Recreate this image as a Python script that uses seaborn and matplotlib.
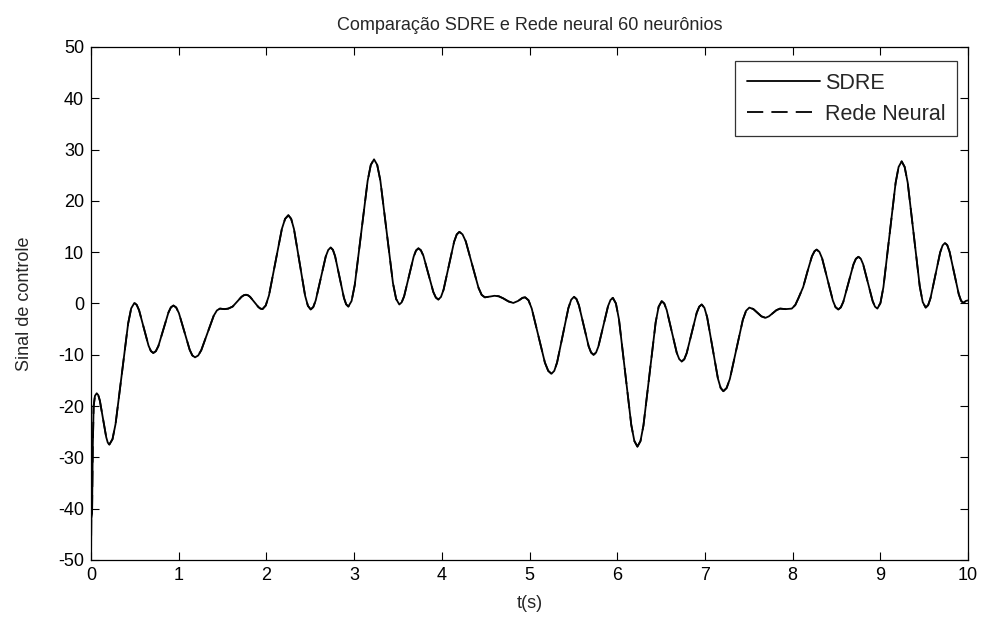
import numpy as np
import pandas as pd
import matplotlib
matplotlib.use("Agg")
import matplotlib.pyplot as plt
import seaborn as sns

# time (s) and control signal
t = [0.000, 0.003, 0.012, 0.020, 0.030, 0.045, 0.065,
     0.083, 0.101, 0.137, 0.173, 0.191, 0.209,
     0.245, 0.280, 0.352, 0.423, 0.458, 0.494,
     0.521, 0.548, 0.602, 0.656, 0.683, 0.710,
     0.739, 0.768, 0.825, 0.883, 0.911, 0.940,
     0.971, 1.002, 1.063, 1.125, 1.155, 1.186,
     1.222, 1.257, 1.328, 1.399, 1.435, 1.470, 1.520, 1.565,
     1.615, 1.666, 1.716, 1.742, 1.767,
     1.790, 1.814, 1.861, 1.908, 1.931, 1.955,
     1.992, 2.029, 2.103, 2.176, 2.213, 2.250,
     2.282, 2.314, 2.378, 2.441, 2.473, 2.505,
     2.534, 2.562, 2.619, 2.676, 2.705, 2.733,
     2.758, 2.783, 2.834, 2.884, 2.909, 2.934,
     2.971, 3.007, 3.081, 3.154, 3.190, 3.227,
     3.263, 3.299, 3.371, 3.443, 3.479, 3.515,
     3.542, 3.570, 3.624, 3.679, 3.706, 3.733,
     3.761, 3.790, 3.847, 3.903, 3.932, 3.960,
     3.990, 4.020, 4.080, 4.140, 4.170, 4.200,
     4.236, 4.273, 4.345, 4.418, 4.454, 4.490,
     4.550, 4.600, 4.650, 4.700, 4.760, 4.815, 4.870, 4.920, 4.950,
     4.988, 5.025, 5.100, 5.175, 5.213, 5.250,
     5.282, 5.314, 5.379, 5.443, 5.475, 5.507,
     5.535, 5.563, 5.619, 5.674, 5.702, 5.730,
     5.758, 5.785, 5.840, 5.895, 5.923, 5.950,
     5.985, 6.020, 6.090, 6.160, 6.195, 6.230,
     6.265, 6.299, 6.369, 6.438, 6.472, 6.507,
     6.536, 6.564, 6.621, 6.678, 6.707, 6.735,
     6.764, 6.792, 6.849, 6.906, 6.935, 6.963,
     6.994, 7.025, 7.087, 7.148, 7.179, 7.210,
     7.247, 7.284, 7.358, 7.432, 7.469, 7.506,
     7.552, 7.598, 7.644, 7.690,
     7.730, 7.773, 7.815, 7.856, 7.920, 7.990, 8.030, 8.065,
     8.120, 8.170, 8.220, 8.250, 8.274,
     8.305, 8.336, 8.397, 8.459, 8.489, 8.520,
     8.549, 8.578, 8.635, 8.693, 8.721, 8.750,
     8.777, 8.804, 8.858, 8.912, 8.939, 8.966,
     9.001, 9.035, 9.105, 9.174, 9.208, 9.243,
     9.277, 9.312, 9.380, 9.449, 9.483, 9.517,
     9.545, 9.572, 9.627, 9.682, 9.710, 9.737,
     9.763, 9.789, 9.841, 9.894, 9.920, 9.946,
     9.975, 10.000]

sdre = [-50.0, -42.0, -41.0, -28.0, -20.0, -18.0, -17.5,
        -17.88, -18.96, -22.5, -26.04, -27.12, -27.5,
        -26.45, -23.47, -13.7, -3.93, -0.95, 0.1,
        -0.27, -1.32, -4.78, -8.23, -9.28, -9.65,
        -9.3, -8.30, -5.03, -1.75, -0.75, -0.4,
        -0.78, -1.87, -5.45, -9.03, -10.12, -10.5,
        -10.14, -9.11, -5.75, -2.39, -1.36, -1.0, -1.1, -1.0,
        -0.6, 0.35, 1.3, 1.6, 1.7,
        1.59, 1.29, 0.3, -0.69, -0.99, -1.1,
        -0.40, 1.57, 8.05, 14.53, 16.5, 17.2,
        16.50, 14.52, 8.02, 1.52, -0.46, -1.16,
        -0.70, 0.6, 4.87, 9.14, 10.44, 10.9,
        10.46, 9.22, 5.15, 1.08, -0.16, -0.6,
        0.49, 3.59, 13.75, 23.91, 27.01, 28.1,
        27.02, 23.97, 13.95, 3.93, 0.88, -0.2,
        0.22, 1.4, 5.28, 9.15, 10.33, 10.75,
        10.37, 9.29, 5.76, 2.23, 1.15, 0.77,
        1.27, 2.7, 7.37, 12.03, 13.46, 13.96,
        13.47, 12.1, 7.58, 3.06, 1.68, 1.2,
        1.35, 1.5, 1.4, 1.0, 0.4, 0.1, 0.5, 1.1, 1.2,
        0.63, -0.98, -6.25, -11.52, -13.13, -13.7,
        -13.13, -11.51, -6.2, -0.89, 0.73, 1.3,
        0.87, -0.35, -4.35, -8.35, -9.57, -10.0,
        -9.58, -8.38, -4.45, -0.52, 0.68, 1.1,
        0.0, -3.13, -13.4, -23.67, -26.8, -27.9,
        -26.82, -23.76, -13.73, -3.69, -0.63, 0.45,
        0.0, -1.27, -5.43, -9.58, -10.85, -11.3,
        -10.88, -9.68, -5.75, -1.82, -0.62, -0.2,
        -0.84, -2.67, -8.65, -14.63, -16.46, -17.1,
        -16.48, -14.72, -8.95, -3.18, -1.42, -0.8,
        -1.09, -1.8, -2.51, -2.8,
        -2.5, -1.9, -1.3, -1.0, -1.1, -1.0, -0.3, 1.0,
        3.2, 6.3, 9.2, 10.2, 10.5,
        10.06, 8.8, 4.67, 0.54, -0.72, -1.16,
        -0.77, 0.34, 3.97, 7.6, 8.71, 9.1,
        8.72, 7.63, 4.05, 0.47, -0.62, -1.0,
        0.09, 3.19, 13.35, 23.51, 26.61, 27.7,
        26.62, 23.54, 13.45, 3.36, 0.28, -0.8,
        -0.32, 1.04, 5.5, 9.96, 11.32, 11.8,
        11.36, 10.09, 5.95, 1.81, 0.54, 0.1,
        0.5, 0.6]

# the neural network output overlaps the SDRE curve in the picture
rede_neural = list(sdre)

x_ticks = [0, 1, 2, 3, 4, 5, 6, 7, 8, 9, 10]
y_ticks = [-50, -40, -30, -20, -10, 0, 10, 20, 30, 40, 50]

title = "Comparação SDRE e Rede neural 60 neurônios"
xlabel = "t(s)"
ylabel = "Sinal de controle"
labels = ["SDRE", "Rede Neural"]

sns.set_style("ticks")
plt.rcParams["font.family"] = ["Liberation Sans", "DejaVu Sans"]
plt.rcParams["axes.unicode_minus"] = False

df = pd.DataFrame({"t": t + t,
                   "valor": sdre + rede_neural,
                   "serie": [labels[0]] * len(t) + [labels[1]] * len(t)})

fig = plt.figure(figsize=(9.84, 6.28), dpi=100)
ax = fig.add_axes([0.0925, 0.1083, 0.8913, 0.8169])

sns.lineplot(data=df[df.serie == labels[0]], x="t", y="valor", ax=ax,
             color="black", linewidth=1.3, linestyle="-", label=labels[0],
             estimator=None, sort=False)
sns.lineplot(data=df[df.serie == labels[1]], x="t", y="valor", ax=ax,
             color="black", linewidth=1.3, linestyle=(0, (9, 4.5)), label=labels[1],
             estimator=None, sort=False)

ax.set_xlim(0, 10)
ax.set_ylim(-50, 50)
ax.set_xticks(x_ticks)
ax.set_yticks(y_ticks)
ax.tick_params(direction="in", length=6, width=0.8, top=True, right=True,
               labelsize=13, colors="black", pad=5)
for s in ax.spines.values():
    s.set_visible(True)
    s.set_linewidth(0.9)
    s.set_color("black")

ax.set_title(title, fontsize=13, pad=12)
ax.set_xlabel(xlabel, fontsize=13, labelpad=8)
ax.set_ylabel(ylabel, fontsize=13, labelpad=18)

leg = ax.legend(loc="upper right", bbox_to_anchor=(0.9875, 0.9727),
                frameon=True, fancybox=False, fontsize=15.5,
                handlelength=3.4, handletextpad=0.22, borderpad=0.55,
                labelspacing=0.45, borderaxespad=0)
leg.get_frame().set_edgecolor("black")
leg.get_frame().set_linewidth(0.9)

fig.savefig("out.png", dpi=100)
